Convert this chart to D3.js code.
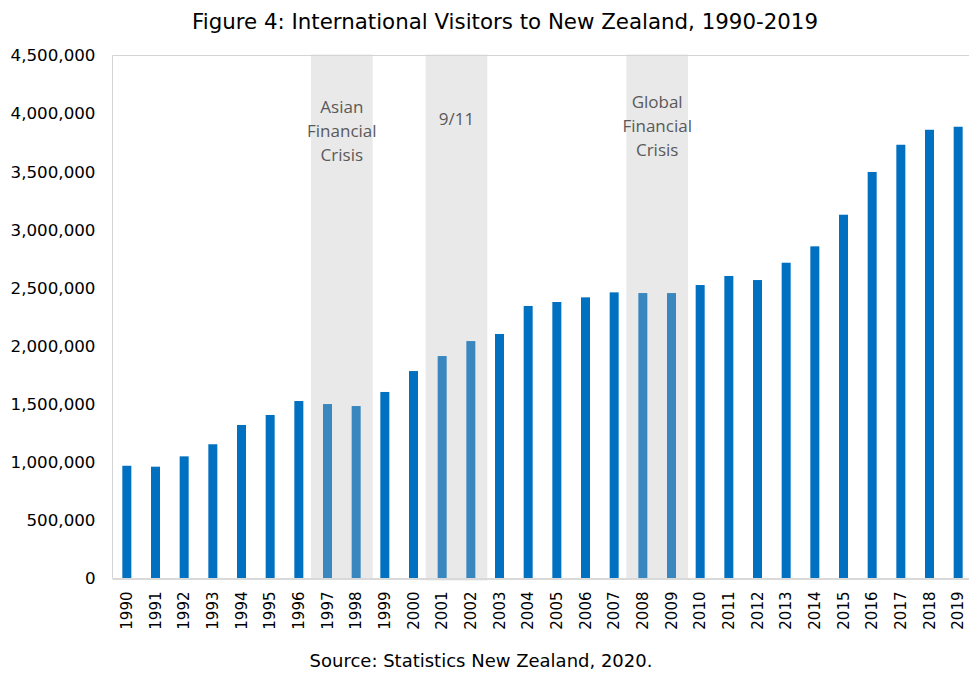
<!DOCTYPE html>
<html>
<head>
<meta charset="utf-8">
<script src="https://cdn.jsdelivr.net/npm/d3@7"></script>
<style>
  html, body { margin: 0; padding: 0; background: #fff; }
  svg { display: block; }
  .tahoma { font-family: "DejaVu Sans", sans-serif; }
</style>
</head>
<body>
<svg id="chart" width="969" height="673"></svg>
<script>
// International visitor arrivals, year ended December
const years = ["1990","1991","1992","1993","1994","1995","1996","1997","1998","1999",
               "2000","2001","2002","2003","2004","2005","2006","2007","2008","2009",
               "2010","2011","2012","2013","2014","2015","2016","2017","2018","2019"];
const visitors = [970000, 962000, 1051000, 1155000, 1321000, 1407000, 1527000, 1501000, 1484000, 1605000,
                  1785000, 1914000, 2043000, 2104000, 2345000, 2379000, 2419000, 2462000, 2456000, 2456000,
                  2525000, 2603000, 2568000, 2717000, 2858000, 3130000, 3498000, 3732000, 3861000, 3887000];
const yTicks = [0, 500000, 1000000, 1500000, 2000000, 2500000, 3000000, 3500000, 4000000, 4500000];

// Shaded shock periods
const eventStart = ["1997", "2001", "2008"];
const eventEnd   = ["1998", "2002", "2009"];
const eventLabel = [["Asian", "Financial", "Crisis"], ["9/11"], ["Global", "Financial", "Crisis"]];
const eventLabelTop = [107, 119, 102];

const svg = d3.select("#chart");
const plotLeft = 112.5, plotTop = 55.5, plotBottom = 578.5, plotRight = 972.5;

const pad = 0.686;
const x = d3.scaleBand().domain(years).range([plotLeft, plotRight])
  .paddingInner(pad).paddingOuter(pad / 2);
const step = x.step();
const y = d3.scaleLinear().domain([0, 4500000]).range([plotBottom, plotTop]);

// event shading
const shadeG = svg.append("g");
eventStart.forEach((s, i) => {
  const c = (x(s) + x(eventEnd[i]) + x.bandwidth()) / 2;
  const w = 2.15 * step;
  shadeG.append("rect")
    .attr("x", c - w / 2).attr("y", plotTop - 1)
    .attr("width", w).attr("height", plotBottom - plotTop + (i === 1 ? 3 : 1))
    .attr("fill", "#e9e9e9");
});

// plot frame (top and left edges)
svg.append("path")
  .attr("d", `M${plotLeft},${plotBottom} V${plotTop} H${plotRight}`)
  .attr("fill", "none").attr("stroke", "#d4d4d4").attr("stroke-width", 1);

// bars
const inEvent = yr => eventStart.some((s, i) => yr >= s && yr <= eventEnd[i]);
svg.append("g").selectAll("rect").data(years).join("rect")
  .attr("x", d => x(d))
  .attr("width", x.bandwidth())
  .attr("y", (d, i) => y(visitors[i]))
  .attr("height", (d, i) => y(0) - y(visitors[i]))
  .attr("fill", d => inEvent(d) ? "#3a87c0" : "#0070c0");

// baseline
svg.append("line")
  .attr("x1", plotLeft).attr("x2", plotRight)
  .attr("y1", plotBottom + 0.5).attr("y2", plotBottom + 0.5)
  .attr("stroke", "#d9d9d9").attr("stroke-width", 2);

// y axis
const yAxis = d3.axisLeft(y).tickValues(yTicks).tickFormat(d3.format(",")).tickSize(0).tickPadding(17);
const yg = svg.append("g").attr("transform", `translate(${plotLeft},0)`).call(yAxis);
yg.select(".domain").remove();
yg.selectAll("text").attr("class", "tahoma").attr("font-size", 16.7).attr("fill", "#000");

// x axis
const xAxis = d3.axisBottom(x).tickSize(0).tickPadding(0);
const xg = svg.append("g").attr("transform", `translate(0,${plotBottom})`).call(xAxis);
xg.select(".domain").remove();
xg.selectAll("text")
  .attr("class", "tahoma")
  .attr("font-size", 15).attr("fill", "#000")
  .attr("text-anchor", "end")
  .attr("dy", null)
  .attr("transform", "translate(0,13) rotate(-90)")
  .attr("x", 0).attr("y", 0)
  .attr("dominant-baseline", "central");

// event labels
eventStart.forEach((s, i) => {
  const c = (x(s) + x(eventEnd[i]) + x.bandwidth()) / 2;
  const t = svg.append("text")
    .attr("x", c).attr("y", eventLabelTop[i])
    .attr("text-anchor", "middle")
    .attr("font-family", "'Open Sans', sans-serif")
    .attr("font-size", 17).attr("fill", "#595959");
  eventLabel[i].forEach((line, j) => {
    t.append("tspan").attr("x", c).attr("y", eventLabelTop[i] + 6 + j * 24).text(line);
  });
});

// title and source
svg.append("text").attr("class", "tahoma")
  .attr("x", 505).attr("y", 29).attr("text-anchor", "middle")
  .attr("font-size", 21).attr("fill", "#000")
  .attr("textLength", 626).attr("lengthAdjust", "spacingAndGlyphs")
  .text("Figure 4: International Visitors to New Zealand, 1990-2019");

svg.append("text").attr("class", "tahoma")
  .attr("x", 481).attr("y", 667).attr("text-anchor", "middle")
  .attr("font-size", 18).attr("fill", "#000")
  .text("Source: Statistics New Zealand, 2020.");
</script>
</body>
</html>
